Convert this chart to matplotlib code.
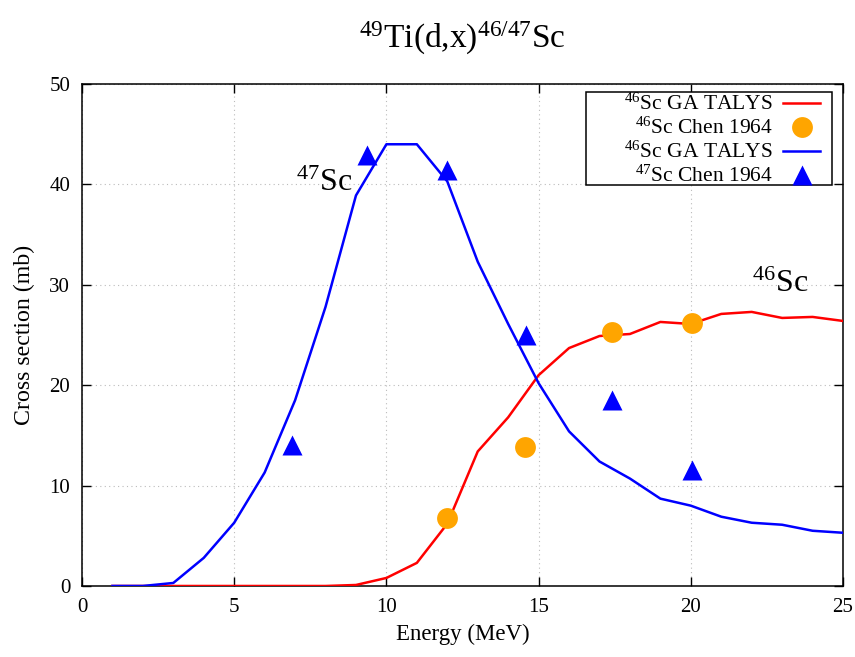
import matplotlib
matplotlib.use('Agg')
import matplotlib.pyplot as plt
from matplotlib.patches import Rectangle

plt.rcParams['font.family'] = ['Liberation Serif', 'DejaVu Serif']
plt.rcParams['mathtext.fontset'] = 'custom'
plt.rcParams['mathtext.rm'] = 'Liberation Serif'
plt.rcParams['mathtext.default'] = 'regular'

# TALYS curves, 1 MeV steps
energy = list(range(1, 26))
talys_46sc = [0, 0, 0, 0, 0, 0, 0, 0, 0.1, 0.8, 2.3, 6.2, 13.4, 16.8, 21.0,
              23.7, 24.9, 25.1, 26.3, 26.1, 27.1, 27.3, 26.7, 26.8, 26.4]
talys_47sc = [0, 0, 0.3, 2.8, 6.3, 11.3, 18.5, 27.8, 38.9, 44.0, 44.0, 40.3,
              32.3, 26.1, 20.2, 15.4, 12.4, 10.7, 8.7, 8.0, 6.9, 6.3, 6.1,
              5.5, 5.3]

# Chen 1964 measurements
chen_46sc_e = [12.0, 14.55, 17.4, 20.05]
chen_46sc = [6.8, 13.8, 25.3, 26.2]
chen_47sc_e = [6.9, 9.37, 11.98, 14.58, 17.4, 20.05]
chen_47sc = [14.0, 42.9, 41.4, 25.0, 18.5, 11.6]

fig = plt.figure(figsize=(8.55, 6.57), dpi=100)
ax = fig.add_axes([0.0959, 0.1081, 0.8901, 0.7640])

ax.plot(energy, talys_46sc, color='#ff0000', lw=1.8, label=r'$^{46}$Sc GA TALYS', zorder=3)
ax.plot(chen_46sc_e, chen_46sc, 'o', color='#ffa500', ms=15, mec='none',
        label=r'$^{46}$Sc Chen 1964', zorder=4)
ax.plot(energy, talys_47sc, color='#0000ff', lw=1.8, label=r'$^{46}$Sc GA TALYS', zorder=3)
ax.plot(chen_47sc_e, chen_47sc, '^', color='#0000ff', ms=15, mec='none',
        label=r'$^{47}$Sc Chen 1964', zorder=4)

ax.text(8.87, 39.3, r'$^{47}$Sc', ha='right', va='baseline', fontsize=23)
ax.text(23.85, 29.3, r'$^{46}$Sc', ha='right', va='baseline', fontsize=23)

ax.set_xlim(0, 25)
ax.set_ylim(0, 50)
ax.set_xticks([0, 5, 10, 15, 20, 25])
ax.set_yticks([0, 10, 20, 30, 40, 50])
ax.tick_params(direction='in', top=True, right=True, length=6.5, width=1,
               pad=8.5, labelsize=15)
for sp in ax.spines.values():
    sp.set_linewidth(1.1)
ax.grid(True, color='#bbbbbb', linestyle=(0, (1, 3)), linewidth=0.8)
ax.set_axisbelow(True)

ax.set_xlabel('Energy (MeV)', fontsize=16.5, labelpad=5)
ax.set_ylabel('Cross section (mb)', fontsize=17.2, labelpad=10)
ax.set_title(r'$^{49}$Ti(d,x)$^{46/47}$Sc', fontsize=24, pad=26)

# legend box drawn separately so the text sits right-aligned inside a wide frame
ax.add_patch(Rectangle((0.6623, 0.7988), 0.3232, 0.1853, transform=ax.transAxes,
                       facecolor='white', edgecolor='black', lw=1.1, zorder=6))
leg = ax.legend(loc='upper right', bbox_to_anchor=(0.9698, 0.980), borderaxespad=0,
                borderpad=0, frameon=False, markerfirst=False, fontsize=15.5,
                handlelength=1.72, handletextpad=0.47, labelspacing=0.13,
                numpoints=1)
leg.set_zorder(7)

fig.savefig('out.png', dpi=100)
